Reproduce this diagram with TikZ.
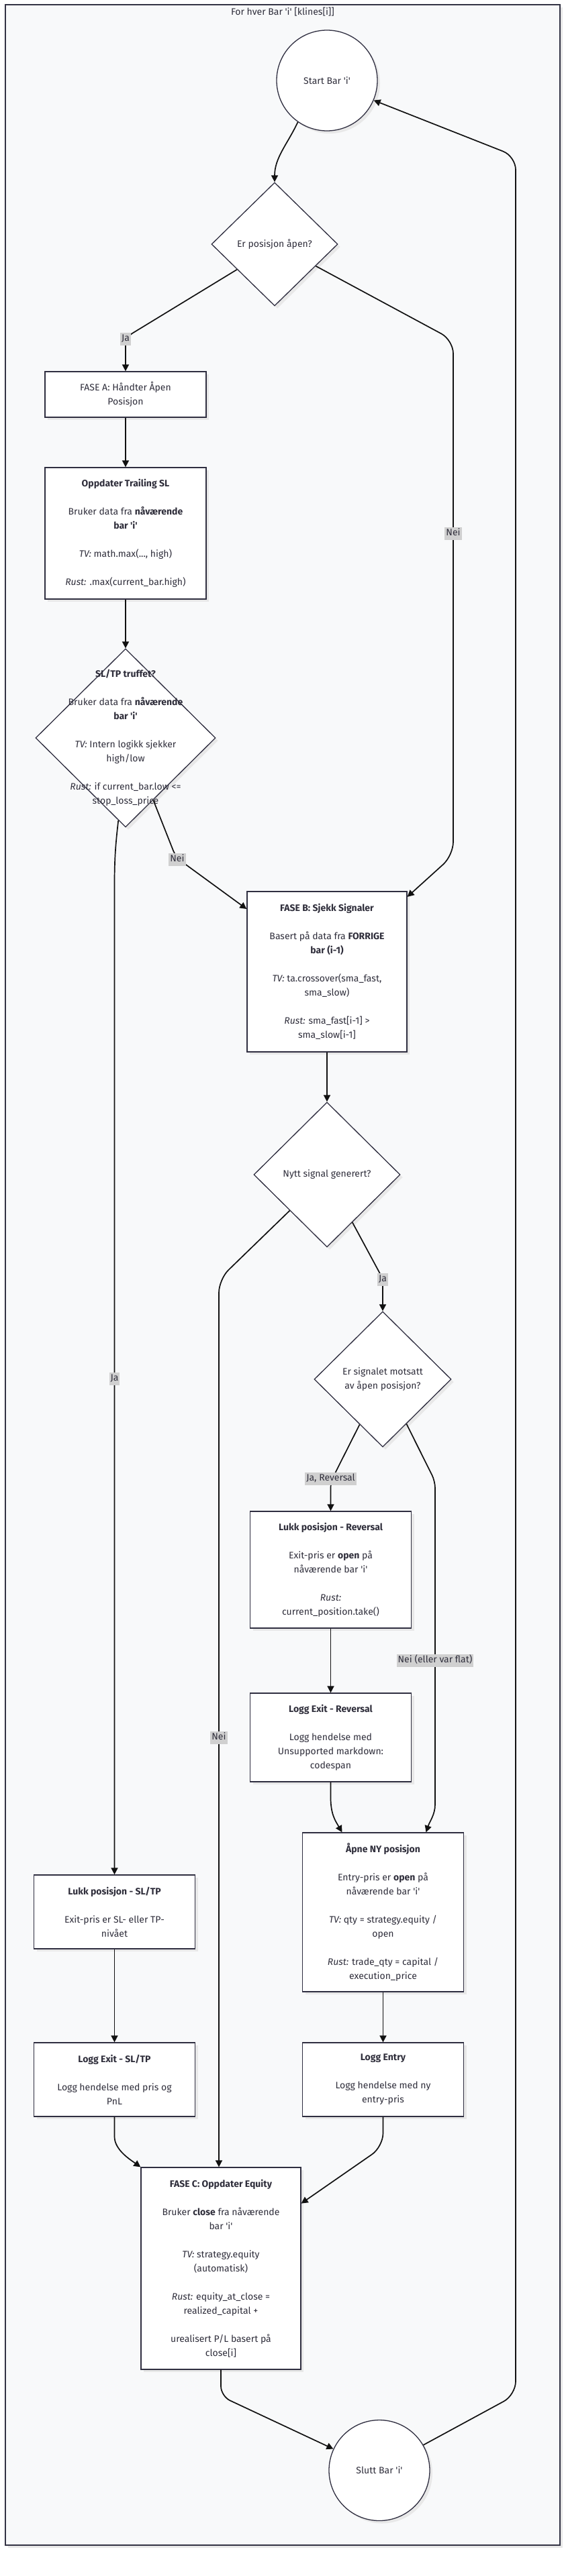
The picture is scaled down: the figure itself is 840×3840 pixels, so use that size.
\documentclass[tikz,border=0pt]{standalone}
\usepackage{fontspec}
\setmainfont{Fira Sans}
\usetikzlibrary{shapes.geometric,arrows.meta}
\definecolor{framefill}{HTML}{F8F9FA}
\definecolor{frameline}{HTML}{333344}
\definecolor{nodeline}{HTML}{2F2E40}
\definecolor{txt}{HTML}{2F2E3B}
\definecolor{lblgray}{HTML}{D0D0D0}
\definecolor{edgecol}{HTML}{111111}
\newcommand\q{\textquotesingle}
\newcommand\gap{\\[21pt]}
\newcommand\fs{\fontsize{14pt}{21pt}\selectfont}
\tikzset{
  shadowed/.style={preaction={draw=none, fill=black!9, transform canvas={xshift=4pt,yshift=-4pt}}},
  frame/.style={draw=frameline, fill=framefill, line width=1.5pt, minimum width=826pt, minimum height=3787pt, inner sep=0pt, shadowed},
  box/.style={draw=nodeline, fill=white, line width=1.3pt, minimum width=240pt, align=center, text=txt, font=\fs, inner sep=0pt, shadowed},
  dia/.style={diamond, draw=nodeline, fill=white, line width=1.3pt, inner sep=0pt, shadowed},
  circ/.style={circle, draw=nodeline, fill=white, line width=1.3pt, minimum size=150pt, inner sep=0pt, text=txt, font=\fs, shadowed},
  txtnode/.style={align=center, text=txt, font=\fs, inner sep=0pt},
  edge/.style={draw=edgecol, line width=1.7pt, -{Triangle[length=10pt,width=10pt]}},
  lbl/.style={fill=lblgray, text=txt, font=\fs, inner xsep=2pt, inner ysep=2pt, text height=11pt, text depth=4pt},
}
\begin{document}
\begin{tikzpicture}[x=1pt,y=-1pt]
\useasboundingbox (0,0) rectangle (840,3840);
\fill[white] (0,0) rectangle (840,3840);
% frame
\node[frame] (frame) at (421,1900.5) {};
\node[txtnode] (title) at (421,18) {For hver Bar \q i\q{} [klines[i]]};

% nodes
\node[circ] (start) at (487,120) {Start Bar \q i\q};
\node[dia, minimum width=188pt, minimum height=184pt] (erapen) at (409,364) {};
\node[txtnode] (erapenT) at (erapen) {Er posisjon åpen?};

\node[box, minimum height=68pt] (fasea) at (187,588) {FASE A: Håndter Åpen\\Posisjon};
\node[box, minimum height=196pt] (oppd) at (187,795) {\textbf{Oppdater Trailing SL}\gap Bruker data fra \textbf{nåværende}\\\textbf{bar \q i\q}\gap \textit{TV:} math.max(..., high)\gap \textit{Rust:} .max(current\_bar.high)};

\node[dia, minimum width=268pt, minimum height=266pt] (sltp) at (187,1100) {};
\node[txtnode] (sltpT) at (sltp) {\textbf{SL/TP truffet?}\gap Bruker data fra \textbf{nåværende}\\\textbf{bar \q i\q}\gap \textit{TV:} Intern logikk sjekker\\high/low\gap \textit{Rust:} if current\_bar.low <=\\stop\_loss\_price};

\node[box, minimum width=238pt, minimum height=239pt] (faseb) at (487,1448.5) {\textbf{FASE B: Sjekk Signaler}\gap Basert på data fra \textbf{FORRIGE}\\\textbf{bar (i-1)}\gap \textit{TV:} ta.crossover(sma\_fast,\\sma\_slow)\gap \textit{Rust:} sma\_fast[i-1] >\\sma\_slow[i-1]};

\node[dia, minimum width=218pt, minimum height=216pt] (nytt) at (487,1751) {};
\node[txtnode] (nyttT) at (nytt) {Nytt signal generert?};

\node[dia, minimum width=204pt, minimum height=202pt] (motsatt) at (570,2056) {};
\node[txtnode] (motsattT) at (motsatt) {Er signalet motsatt\\av åpen posisjon?};

\node[box, minimum height=174pt] (lukkrev) at (492.5,2340) {\textbf{Lukk posisjon - Reversal}\gap Exit-pris er \textbf{open} på\\nåværende bar \q i\q\gap \textit{Rust:}\\current\_position.take()};
\node[box, minimum height=132pt] (loggrev) at (492.5,2590) {\textbf{Logg Exit - Reversal}\gap Logg hendelse med\\Unsupported markdown:\\codespan};
\node[box, minimum height=237pt] (aapne) at (570.5,2850.5) {\textbf{Åpne NY posisjon}\gap Entry-pris er \textbf{open} på\\nåværende bar \q i\q\gap \textit{TV:} qty = strategy.equity /\\open\gap \textit{Rust:} trade\_qty = capital /\\execution\_price};
\node[box, minimum height=110pt] (loggentry) at (570.5,3100) {\textbf{Logg Entry}\gap Logg hendelse med ny\\entry-pris};

\node[box, minimum height=110pt] (lukksl) at (170.5,2850) {\textbf{Lukk posisjon - SL/TP}\gap Exit-pris er SL- eller TP-\\nivået};
\node[box, minimum height=110pt] (loggsl) at (170.5,3100) {\textbf{Logg Exit - SL/TP}\gap Logg hendelse med pris og\\PnL};

\node[box, minimum width=238pt, minimum height=301pt] (fasec) at (329,3381.5) {\textbf{FASE C: Oppdater Equity}\gap Bruker \textbf{close} fra nåværende\\bar \q i\q\gap \textit{TV:} strategy.equity\\(automatisk)\gap \textit{Rust:} equity\_at\_close =\\realized\_capital +\gap urealisert P/L basert på\\close[i]};

\node[circ] (slutt) at (565,3682.5) {Slutt Bar \q i\q};

% edges
\draw[edge] (start.235) .. controls (428,215) and (409,235) .. (erapen.north);
\draw[edge, rounded corners=12pt] (erapen.214) -- (187,503) -- (fasea.north);
\draw[edge, rounded corners=20pt] (erapen.-28) -- (675,507) -- (675,1275) -- (faseb.43);
\draw[edge] (fasea.south) -- (oppd.north);
\draw[edge] (oppd.south) -- (sltp.north);
\draw[edge, rounded corners=10pt] (sltp.-66) -- (262,1278) -- (faseb.142);
\draw[edge] (sltp.265) .. controls (172,1260) and (170.5,1280) .. (170.5,1320) -- (lukksl.north);
\draw[edge] (faseb.south) -- (nytt.north);
\draw[edge, rounded corners=20pt] (nytt.224) -- (326,1907) -- ([xshift=-3pt]fasec.north);
\draw[edge, rounded corners=8pt] (nytt.-62) -- (570,1906) -- (motsatt.north);
\draw[edge, rounded corners=8pt] (motsatt.243) -- (492.5,2209) -- (lukkrev.north);
\draw[edge, rounded corners=10pt] (motsatt.-62) -- (648,2208) -- (648,2680) .. controls (648,2705) and (640,2715) .. ([xshift=64pt]aapne.north);
\draw[edge] (lukkrev.south) -- (loggrev.north);
\draw[edge] (loggrev.south) -- (492.5,2680) .. controls (492.5,2705) and (500,2715) .. ([xshift=-61pt]aapne.north);
\draw[edge] (aapne.south) -- (loggentry.north);
\draw[edge] (lukksl.south) -- (loggsl.north);
\draw[edge] (loggsl.south) -- (170.5,3185) .. controls (170.5,3205) and (195,3220) .. (fasec.north west);
\draw[edge, rounded corners=20pt] (loggentry.south) -- (570.5,3200) -- (fasec.39);
\draw[edge, rounded corners=15pt] (fasec.south) -- (329,3572) -- (slutt.155);
\draw[edge, rounded corners=20pt] (slutt.30) -- (768,3570) -- (768,233) -- (start.-23);

% labels
\node[lbl] (l1) at (187,505) {Ja};
\node[lbl] (l2) at (675,795) {Nei};
\node[lbl] (l3) at (264,1281) {Nei};
\node[lbl] (l4) at (170.5,2055) {Ja};
\node[lbl] (l5) at (326,2590) {Nei};
\node[lbl] (l6) at (570,1907) {Ja};
\node[lbl] (l7) at (492.5,2204) {Ja, Reversal};
\node[lbl] (l8) at (648,2475) {Nei (eller var flat)};
\end{tikzpicture}
\end{document}
